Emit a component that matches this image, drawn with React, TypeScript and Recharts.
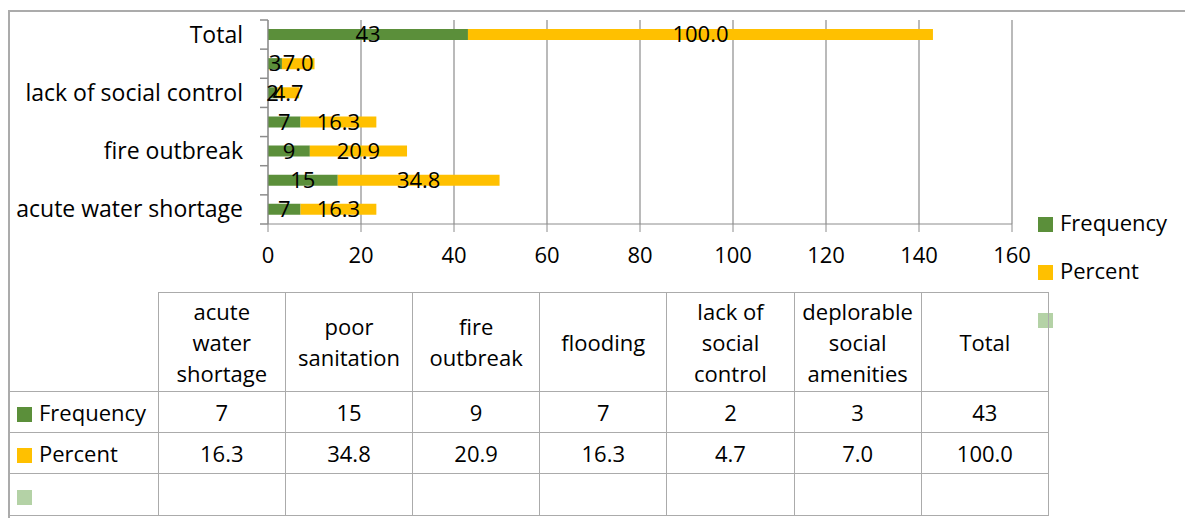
import React from 'react';
import { BarChart, Bar, XAxis, YAxis, CartesianGrid, LabelList } from 'recharts';

const categories = [
  'acute water shortage',
  'poor sanitation',
  'fire outbreak',
  'flooding',
  'lack of social control',
  'deplorable social amenities',
  'Total'
];
// header cells of the table, broken the way they wrap
const headerLines = [
  ['acute', 'water', 'shortage'],
  ['poor', 'sanitation'],
  ['fire', 'outbreak'],
  ['flooding'],
  ['lack of', 'social', 'control'],
  ['deplorable', 'social', 'amenities'],
  ['Total']
];
const frequency = [7, 15, 9, 7, 2, 3, 43];
const percent = [16.3, 34.8, 20.9, 16.3, 4.7, 7.0, 100.0];
const xTicks = [0, 20, 40, 60, 80, 100, 120, 140, 160];

const GREEN = '#5B8F3A';
const GOLD = '#FFC000';
const PALE = '#B4D2A6';
const GRID = '#8C8C8C';
const LINE = '#ABABAB';
const FONT = '"Open Sans", Lato, sans-serif';
const FS = 22;
const AXIS_FS = 23;

const chartData = categories.map((name, i) => ({
  name,
  Frequency: frequency[i],
  Percent: percent[i]
}));

const CHART_H = 280;
const M_TOP = 12;
const X_AXIS_H = 50;
const M_BOTTOM = 14;
const PLOT_H = CHART_H - M_TOP - M_BOTTOM - X_AXIS_H;
const BAND = PLOT_H / categories.length;

// category ticks sit on band edges; only every other name is printed
const CategoryTick = (props: any) => {
  const { x, y, payload, index } = props;
  const axisX = x + 25;
  const showText = index % 2 === 0;
  return (
    <g>
      <line x1={axisX - 8} x2={axisX} y1={y + BAND / 2} y2={y + BAND / 2} stroke={GRID} strokeWidth={1.5} />
      {index === categories.length - 1 && (
        <line x1={axisX - 8} x2={axisX} y1={y - BAND / 2} y2={y - BAND / 2} stroke={GRID} strokeWidth={1.5} />
      )}
      {showText && (
        <text x={x} y={y} dy="0.35em" textAnchor="end" fill="#000" fontSize={AXIS_FS} fontFamily={FONT}>
          {payload.value}
        </text>
      )}
    </g>
  );
};

const Swatch = ({ color }: { color: string }) => (
  <span style={{ display: 'inline-block', width: 15, height: 15, background: color, marginRight: 7, verticalAlign: -1 }} />
);

const cellBorder = `1.5px solid ${LINE}`;

export default function App() {
  return (
    <div style={{ position: 'relative', width: 1185, height: 518, marginBottom: -8, fontFamily: FONT, overflow: 'hidden' }}>
      <div style={{ position: 'absolute', left: 0, top: 2, width: 1200, height: 530, borderLeft: `2px solid ${LINE}`, borderTop: `2px solid ${LINE}` }} />

      <div style={{ position: 'absolute', left: 0, top: 0 }}>
        <BarChart
          width={1040}
          height={CHART_H}
          data={chartData}
          layout="vertical"
          margin={{ top: M_TOP, right: 36, left: 10, bottom: M_BOTTOM }}
          barSize={11}
        >
          <CartesianGrid horizontal={false} stroke={GRID} strokeWidth={1.2} />
          <XAxis
            type="number"
            domain={[0, 160]}
            ticks={xTicks}
            height={X_AXIS_H}
            stroke={GRID}
            tickSize={8}
            tickMargin={15}
            tick={{ fill: '#000', fontSize: FS, fontFamily: FONT }}
          />
          <YAxis
            type="category"
            dataKey="name"
            reversed
            width={250}
            stroke={GRID}
            interval={0}
            tickLine={false}
            tickSize={7}
            tickMargin={18}
            tick={<CategoryTick />}
          />
          <Bar dataKey="Frequency" stackId="a" fill={GREEN} isAnimationActive={false}>
            <LabelList dataKey="Frequency" position="center" fill="#000" fontSize={FS} fontFamily={FONT} />
          </Bar>
          <Bar dataKey="Percent" stackId="a" fill={GOLD} isAnimationActive={false}>
            <LabelList
              dataKey="Percent"
              position="center"
              fill="#000"
              fontSize={FS}
              fontFamily={FONT}
              formatter={(v: any) => Number(v).toFixed(1)}
            />
          </Bar>
        </BarChart>
      </div>

      <div style={{ position: 'absolute', left: 1030, top: 190, fontSize: FS, lineHeight: '48px', color: '#000' }}>
        <div><Swatch color={GREEN} />Frequency</div>
        <div><Swatch color={GOLD} />Percent</div>
        <div><Swatch color={PALE} /></div>
      </div>

      <table
        style={{
          position: 'absolute',
          left: 0,
          top: 284,
          borderCollapse: 'collapse',
          tableLayout: 'fixed',
          width: 1041,
          fontSize: FS,
          color: '#000'
        }}
      >
        <colgroup>
          <col style={{ width: 150 }} />
          {categories.map((c) => (
            <col key={c} style={{ width: 127 }} />
          ))}
        </colgroup>
        <tbody>
          <tr style={{ height: 99 }}>
            <td style={{ borderRight: cellBorder, borderBottom: cellBorder }} />
            {headerLines.map((lines, i) => (
              <td key={i} style={{ border: cellBorder, textAlign: 'center', lineHeight: '31px', padding: 0 }}>
                {lines.map((l) => (
                  <div key={l}>{l}</div>
                ))}
              </td>
            ))}
          </tr>
          <tr style={{ height: 41 }}>
            <td style={{ borderBottom: cellBorder, borderRight: cellBorder, paddingLeft: 9, whiteSpace: 'nowrap' }}>
              <Swatch color={GREEN} />Frequency
            </td>
            {frequency.map((v, i) => (
              <td key={i} style={{ border: cellBorder, textAlign: 'center', padding: 0 }}>{v}</td>
            ))}
          </tr>
          <tr style={{ height: 41 }}>
            <td style={{ borderBottom: cellBorder, borderRight: cellBorder, paddingLeft: 9 }}>
              <Swatch color={GOLD} />Percent
            </td>
            {percent.map((v, i) => (
              <td key={i} style={{ border: cellBorder, textAlign: 'center', padding: 0 }}>{v.toFixed(1)}</td>
            ))}
          </tr>
          <tr style={{ height: 42 }}>
            <td style={{ borderBottom: cellBorder, borderRight: cellBorder, paddingLeft: 9 }}>
              <Swatch color={PALE} />
            </td>
            {categories.map((c) => (
              <td key={c} style={{ border: cellBorder }} />
            ))}
          </tr>
        </tbody>
      </table>
    </div>
  );
}
